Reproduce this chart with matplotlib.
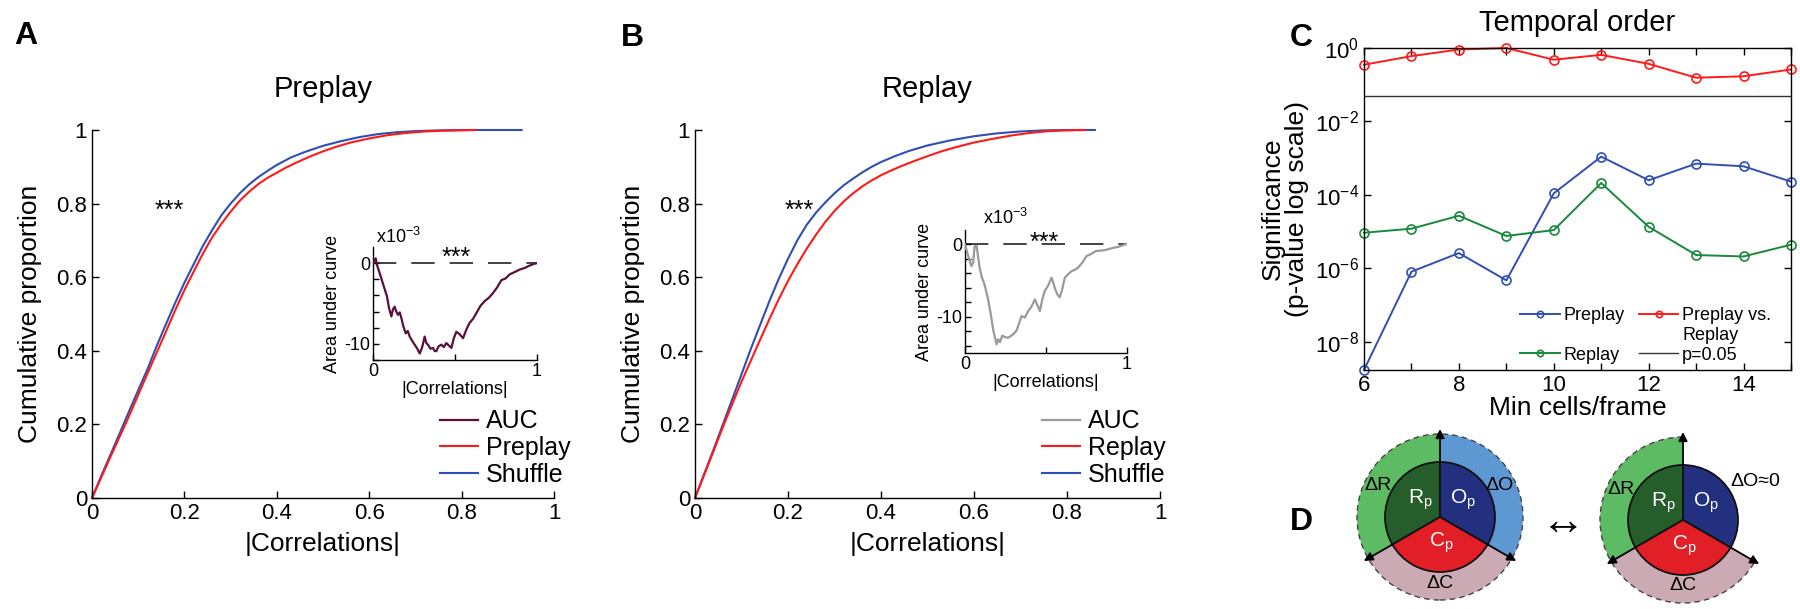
import numpy as np
import matplotlib
matplotlib.use('Agg')
from matplotlib import pyplot as plt
from matplotlib.patches import Wedge, Circle, Arc
from matplotlib.lines import Line2D

plt.rcParams['font.family'] = ['Liberation Sans', 'DejaVu Sans']
plt.rcParams['mathtext.fontset'] = 'custom'
plt.rcParams['mathtext.rm'] = 'Liberation Sans'
plt.rcParams['mathtext.it'] = 'Liberation Sans:italic'
plt.rcParams['mathtext.bf'] = 'Liberation Sans:bold'
plt.rcParams['axes.unicode_minus'] = False
plt.rcParams['xtick.direction'] = 'in'
plt.rcParams['ytick.direction'] = 'in'
plt.rcParams['axes.linewidth'] = 1.0

# A - preplay cumulative proportions
pre_shuf_x = [0, 0.02, 0.04, 0.06, 0.08, 0.1, 0.12, 0.14, 0.16, 0.18, 0.2, 0.22, 0.24, 0.26, 0.28, 0.3, 0.32,
              0.34, 0.36, 0.38, 0.4, 0.43, 0.46, 0.5, 0.54, 0.58, 0.62, 0.66, 0.7, 0.75, 0.8, 0.93]
pre_shuf_y = [0, 0.06, 0.118, 0.176, 0.235, 0.293, 0.35, 0.413, 0.472, 0.53, 0.585, 0.635, 0.685, 0.728, 0.768, 0.8, 0.828,
              0.852, 0.872, 0.889, 0.905, 0.925, 0.94, 0.957, 0.97, 0.981, 0.989, 0.994, 0.997, 0.999, 1.0, 1.0]
pre_x = [0, 0.02, 0.04, 0.06, 0.08, 0.1, 0.12, 0.14, 0.16, 0.18, 0.2, 0.22, 0.24, 0.26, 0.28, 0.3, 0.32, 0.34,
         0.36, 0.38, 0.4, 0.42, 0.44, 0.47, 0.5, 0.53, 0.56, 0.6, 0.64, 0.68, 0.72, 0.76, 0.83]
pre_y = [0, 0.056, 0.112, 0.167, 0.222, 0.28, 0.338, 0.395, 0.452, 0.51, 0.565, 0.615, 0.664, 0.708, 0.745, 0.778, 0.808, 0.832,
         0.853, 0.87, 0.884, 0.898, 0.91, 0.927, 0.942, 0.955, 0.966, 0.977, 0.986, 0.992, 0.996, 0.998, 1.0]
# A inset - area under curve (x1e-3)
pre_auc_x = [0, 0.016, 0.024, 0.04, 0.06, 0.085, 0.098, 0.112, 0.122, 0.132, 0.142, 0.152, 0.163, 0.173, 0.186, 0.2, 0.212,
             0.224, 0.238, 0.254, 0.27, 0.285, 0.3, 0.315, 0.325, 0.335, 0.35, 0.366, 0.376, 0.386, 0.4, 0.417, 0.432,
             0.447, 0.462, 0.478, 0.493, 0.508, 0.528, 0.549, 0.57, 0.589, 0.61, 0.63, 0.655, 0.681, 0.706, 0.732,
             0.757, 0.783, 0.808, 0.833, 0.864, 0.894, 0.925, 0.955, 0.98, 1.0]
pre_auc_y = [0, 0.6, -0.2, -1.2, -2.5, -4.1, -5.6, -6.6, -5.7, -5.4, -6.0, -6.4, -6.1, -6.8, -7.9, -8.7, -8.4,
             -9.1, -9.6, -10.1, -10.6, -11.2, -10.4, -9.1, -9.9, -10.1, -10.6, -10.5, -10.9, -10.9, -10.3, -10.1, -10.4,
             -9.9, -10.2, -10.5, -9.3, -8.5, -8.8, -9.3, -8.2, -7.4, -6.9, -6.2, -5.3, -4.7, -4.3, -3.7,
             -3.0, -2.1, -1.9, -1.4, -1.1, -0.8, -0.6, -0.3, -0.1, 0]

# B - replay cumulative proportions
re_shuf_x = [0, 0.02, 0.04, 0.06, 0.08, 0.1, 0.12, 0.14, 0.16, 0.18, 0.2, 0.22, 0.24, 0.26, 0.28, 0.3, 0.32,
             0.34, 0.36, 0.38, 0.4, 0.43, 0.46, 0.5, 0.55, 0.6, 0.65, 0.7, 0.75, 0.8, 0.86]
re_shuf_y = [0, 0.066, 0.132, 0.2, 0.268, 0.336, 0.405, 0.47, 0.535, 0.595, 0.65, 0.7, 0.742, 0.775, 0.803, 0.828, 0.85,
             0.868, 0.885, 0.9, 0.913, 0.929, 0.943, 0.958, 0.972, 0.983, 0.991, 0.996, 0.999, 1.0, 1.0]
re_x = [0, 0.02, 0.04, 0.06, 0.08, 0.1, 0.12, 0.14, 0.16, 0.18, 0.2, 0.22, 0.24, 0.26, 0.28, 0.3, 0.32, 0.34,
        0.36, 0.38, 0.4, 0.42, 0.44, 0.47, 0.5, 0.53, 0.56, 0.6, 0.64, 0.68, 0.72, 0.76, 0.8, 0.84]
re_y = [0, 0.064, 0.128, 0.193, 0.255, 0.316, 0.373, 0.43, 0.486, 0.54, 0.59, 0.635, 0.677, 0.715, 0.75, 0.78, 0.806, 0.828,
        0.847, 0.863, 0.877, 0.889, 0.9, 0.915, 0.929, 0.942, 0.953, 0.966, 0.976, 0.985, 0.992, 0.997, 0.999, 1.0]
# B inset
re_auc_x = [0, 0.02, 0.04, 0.05, 0.06, 0.072, 0.09, 0.105, 0.12, 0.14, 0.158, 0.175, 0.195, 0.205, 0.216, 0.23, 0.246,
            0.265, 0.287, 0.303, 0.318, 0.335, 0.349, 0.37, 0.39, 0.41, 0.431, 0.447, 0.462, 0.478, 0.493, 0.515,
            0.534, 0.544, 0.554, 0.57, 0.585, 0.6, 0.616, 0.637, 0.657, 0.678, 0.698, 0.725, 0.75, 0.78, 0.81,
            0.86, 0.91, 0.95, 1.0]
re_auc_y = [0, -1.6, -3.0, -2.5, -0.2, -0.2, -3.2, -4.6, -5.5, -7.3, -9.5, -11.9, -13.8, -13.1, -13.5, -12.6, -12.8,
            -12.9, -12.6, -12.3, -11.9, -10.8, -9.9, -10.1, -9.2, -8.6, -7.6, -8.4, -9.2, -7.5, -6.4, -5.6,
            -4.6, -5.2, -6.0, -6.9, -7.3, -6.2, -4.6, -4.1, -3.7, -3.5, -3.2, -2.5, -1.6, -1.3, -0.9,
            -0.8, -0.5, -0.3, 0.1]

# C - temporal order significance
min_cells = [6, 7, 8, 9, 10, 11, 12, 13, 14, 15]
p_preplay = [1.7e-9, 8.1e-7, 2.6e-6, 4.7e-7, 1.1e-4, 1.1e-3, 2.5e-4, 7.1e-4, 6.0e-4, 2.3e-4]
p_replay = [9.3e-6, 1.2e-5, 2.7e-5, 7.6e-6, 1.1e-5, 2.1e-4, 1.35e-5, 2.3e-6, 2.1e-6, 4.4e-6]
p_pre_vs_re = [0.35, 0.6, 0.91, 1.0, 0.48, 0.65, 0.37, 0.155, 0.17, 0.26]
p_thresh = 0.05

blue = '#2f4fb5'
red = '#ff1a1a'
green = '#17893b'
maroon = '#5a0f3c'
grey = '#9a9a9a'

W, H = 1800, 609
fig = plt.figure(figsize=(W / 100, H / 100), dpi=100)


def px_axes(l, t, r, b):
    return fig.add_axes([l / W, 1 - b / H, (r - l) / W, (b - t) / H])


def style_main(ax):
    ax.spines['top'].set_visible(False)
    ax.spines['right'].set_visible(False)
    ax.set_xlim(0, 1)
    ax.set_ylim(0, 1)
    ticks = [0, 0.2, 0.4, 0.6, 0.8, 1]
    labs = ['0', '0.2', '0.4', '0.6', '0.8', '1']
    ax.set_xticks(ticks)
    ax.set_xticklabels(labs)
    ax.set_yticks(ticks)
    ax.set_yticklabels(labs)
    ax.tick_params(labelsize=16, length=5, width=1)
    ax.set_xlabel('|Correlations|', fontsize=19, labelpad=6)
    ax.set_ylabel('Cumulative proportion', fontsize=19, labelpad=10)


def style_inset(ax, ymin, yticks):
    ax.spines['top'].set_visible(False)
    ax.spines['right'].set_visible(False)
    ax.set_xlim(0, 1)
    ax.set_ylim(ymin, 2)
    ax.set_xticks([0, 0.5, 1])
    ax.set_xticklabels(['0', '', '1'])
    ax.set_yticks(yticks)
    ax.set_yticklabels(['-10' if t == -10 else ('0' if t == 0 else '') for t in yticks])
    ax.tick_params(labelsize=13, length=4, width=1, pad=2)
    ax.set_xlabel('|Correlations|', fontsize=13, labelpad=1)
    ax.set_ylabel('Area under curve', fontsize=13, labelpad=2)
    ax.axhline(0, color='#222222', lw=1.2, dashes=(14, 9), zorder=1)


# ---- panel A
axA = px_axes(92, 130, 554, 498)
lA1, = axA.plot(pre_shuf_x, pre_shuf_y, color=blue, lw=1.5, clip_on=False)
lA2, = axA.plot(pre_x, pre_y, color=red, lw=1.5, clip_on=False)
style_main(axA)
axA.set_title('Preplay', fontsize=21, pad=24)
axA.text(0.168, 0.762, '***', fontsize=18, ha='center', va='baseline')

insA = px_axes(373, 247, 537, 360)
lA3, = insA.plot(pre_auc_x, pre_auc_y, color=maroon, lw=1.6, zorder=3)
style_inset(insA, -12, [-12, -10, -8, -6, -4, -2, 0])
insA.text(0.51, -0.2, '***', fontsize=18, ha='center', va='baseline')
insA.text(0.02, 1.09, r'x10$^{-3}$', fontsize=13, transform=insA.transAxes, va='center')
axA.legend([lA3, lA2, lA1], ['AUC', 'Preplay', 'Shuffle'], loc='center left',
           bbox_to_anchor=(440 / W, 1 - 448 / H), bbox_transform=fig.transFigure, frameon=False,
           fontsize=18, handlelength=1.5, handletextpad=0.35, labelspacing=0.1, borderpad=0, borderaxespad=0)

# ---- panel B
axB = px_axes(695, 130, 1160, 498)
lB1, = axB.plot(re_shuf_x, re_shuf_y, color=blue, lw=1.5, clip_on=False)
lB2, = axB.plot(re_x, re_y, color=red, lw=1.5, clip_on=False)
style_main(axB)
axB.set_title('Replay', fontsize=21, pad=24)
axB.text(0.225, 0.76, '***', fontsize=18, ha='center', va='baseline')

insB = px_axes(965, 230, 1127, 353)
lB3, = insB.plot(re_auc_x, re_auc_y, color=grey, lw=1.6, zorder=3)
style_inset(insB, -15, [-14, -12, -10, -8, -6, -4, -2, 0])
insB.text(0.49, -0.7, '***', fontsize=18, ha='center', va='baseline')
insB.text(0.11, 1.10, r'x10$^{-3}$', fontsize=13, transform=insB.transAxes, va='center')
axB.legend([lB3, lB2, lB1], ['AUC', 'Replay', 'Shuffle'], loc='center left',
           bbox_to_anchor=(1042 / W, 1 - 448 / H), bbox_transform=fig.transFigure, frameon=False,
           fontsize=18, handlelength=1.5, handletextpad=0.35, labelspacing=0.1, borderpad=0, borderaxespad=0)

# ---- panel C
axC = px_axes(1364, 48, 1791, 370)
mk = dict(marker='o', mfc='none', ms=6.5, mew=1.2, lw=1.4, clip_on=False)
lC1, = axC.plot(min_cells, p_preplay, color=blue, **mk)
lC2, = axC.plot(min_cells, p_replay, color=green, **mk)
lC3, = axC.plot(min_cells, p_pre_vs_re, color=red, **mk)
lC4 = axC.axhline(p_thresh, color='#333333', lw=1.0)
axC.set_yscale('log')
axC.set_xlim(6, 15)
axC.set_ylim(1.7e-9, 1)
axC.set_xticks(range(6, 16))
axC.set_xticklabels([str(v) if v % 2 == 0 and v < 15 else '' for v in range(6, 16)])
yt = [1e-8, 1e-6, 1e-4, 1e-2, 1]
axC.set_yticks(yt)
axC.set_yticklabels([r'$10^{-8}$', r'$10^{-6}$', r'$10^{-4}$', r'$10^{-2}$', r'$10^{0}$'])
axC.yaxis.set_minor_locator(matplotlib.ticker.NullLocator())
axC.tick_params(labelsize=16, length=5, width=1, top=True, right=True)
axC.set_xlabel('Min cells/frame', fontsize=19, labelpad=0)
axC.set_ylabel('Significance\n(p-value log scale)', fontsize=19, labelpad=4, linespacing=1.05)
axC.set_title('Temporal order', fontsize=21, pad=12)
blank = Line2D([], [], color='none')
axC.legend([lC1, blank, lC2, lC3, blank, lC4],
           ['Preplay', ' ', 'Replay', 'Preplay vs.', 'Replay', 'p=0.05'],
           ncol=2, loc='lower left', bbox_to_anchor=(0.365, 0.02), frameon=False, fontsize=13,
           handlelength=2.2, handletextpad=0.2, labelspacing=0.15, columnspacing=0.8,
           borderpad=0, borderaxespad=0, numpoints=1, markerscale=0.7)

# ---- panel D
axD = px_axes(1330, 430, 1800, 609)
axD.set_xlim(0, 470)
axD.set_ylim(0, 179)
axD.set_aspect('equal')
axD.axis('off')

r_in, r_out = 55, 83
c_left = (110, 92)
c_right = (353, 89)
dk_green, dk_blue, dk_red = '#255e2a', '#22307f', '#e21f26'
lt_green, lt_blue, pink = '#5dbb63', '#5e98d2', '#cbaab4'
sectors = [(90, 210, dk_green, lt_green), (-30, 90, dk_blue, lt_blue), (210, 330, dk_red, pink)]


def arrow(c, ang):
    a = np.deg2rad(ang)
    axD.annotate('', xy=(c[0] + 88 * np.cos(a), c[1] + 88 * np.sin(a)),
                 xytext=(c[0] + r_in * np.cos(a), c[1] + r_in * np.sin(a)),
                 arrowprops=dict(arrowstyle='-|>', color='k', lw=1.3, mutation_scale=13, shrinkA=0, shrinkB=0),
                 annotation_clip=False)


for c, rings in [(c_left, [0, 1, 2]), (c_right, [0, 2])]:
    for i in rings:
        t1, t2, _, fc = sectors[i]
        axD.add_patch(Wedge(c, r_out, t1, t2, width=r_out - r_in, fc=fc, ec='none', clip_on=False))
    for t1, t2, fc, _ in sectors:
        axD.add_patch(Wedge(c, r_in, t1, t2, fc=fc, ec='#111111', lw=1.3, clip_on=False))
    for ang in (90, 210, 330):
        arrow(c, ang)

axD.add_patch(Circle(c_left, r_out, fill=False, ec='#444444', lw=1, ls=(0, (4, 3)), clip_on=False))
axD.add_patch(Arc(c_right, 2 * r_out, 2 * r_out, theta1=90, theta2=330, ec='#444444', lw=1, ls=(0, (4, 3)), clip_on=False))

lab = dict(fontsize=14, ha='center', va='center')
wlab = dict(fontsize=15, ha='center', va='center', color='white')
for c, dO in [(c_left, ('\u0394O', 60, 32)), (c_right, ('\u0394O\u22480', 72, 38))]:
    axD.text(c[0] - 62, c[1] + 31, '\u0394R', **lab)
    axD.text(c[0] + dO[1], c[1] + dO[2], dO[0], **lab)
    axD.text(c[0], c[1] - 66, '\u0394C', **lab)
    axD.text(c[0] - 20, c[1] + 17, r'$\mathregular{R_p}$', **wlab)
    axD.text(c[0] + 23, c[1] + 17, r'$\mathregular{O_p}$', **wlab)
    axD.text(c[0] + 1, c[1] - 26, r'$\mathregular{C_p}$', **wlab)
axD.text(233, 87, '\u2194', fontsize=32, ha='center', va='center')

# panel letters
for s, x, y in [('A', 14, 36), ('B', 621, 38), ('C', 1290, 38), ('D', 1290, 522)]:
    fig.text(x / W, 1 - y / H, s, fontsize=23, fontweight='bold', ha='left', va='center')

fig.savefig('out.png', dpi=100)
